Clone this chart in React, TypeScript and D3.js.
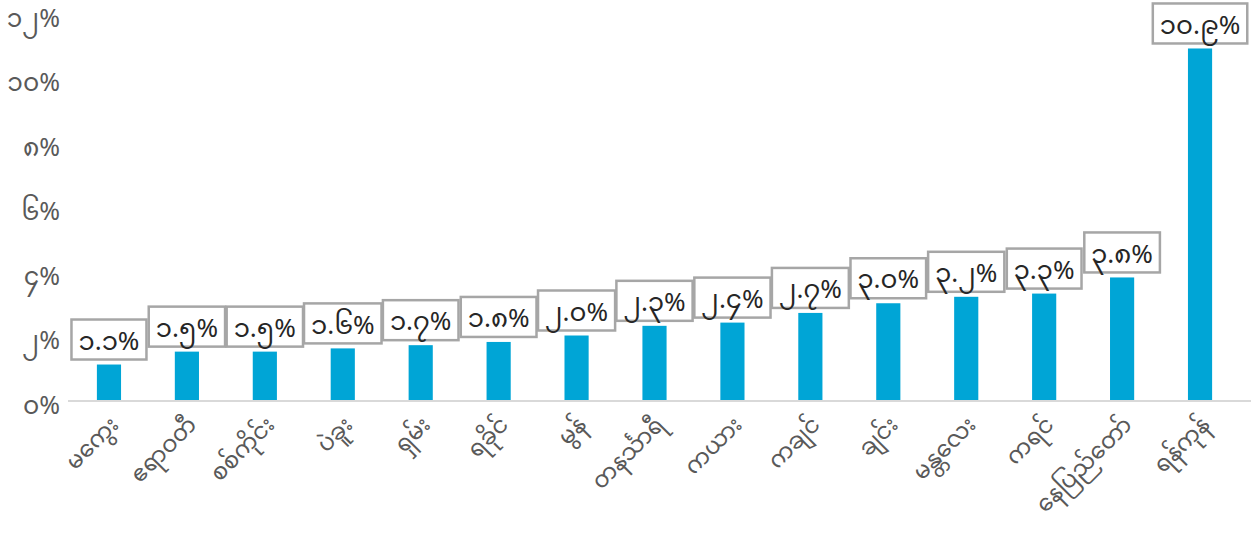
import React from 'react';
import * as d3 from 'd3';

const categories = ['မကွေး', 'ဧရာဝတီ', 'စစ်ကိုင်း', 'ပဲခူး', 'ရှမ်း', 'ရခိုင်', 'မွန်', 'တနင်္သာရီ', 'ကယား', 'ကချင်', 'ချင်း', 'မန္တလေး', 'ကရင်', 'နေပြည်တော်', 'ရန်ကုန်'];
const values = [1.1, 1.5, 1.5, 1.6, 1.7, 1.8, 2.0, 2.3, 2.4, 2.7, 3.0, 3.2, 3.3, 3.8, 10.9];
const yTicks = [0, 2, 4, 6, 8, 10, 12];

const mmDigits = ['၀', '၁', '၂', '၃', '၄', '၅', '၆', '၇', '၈', '၉'];
const toMM = (s: string) => s.replace(/[0-9]/g, d => mmDigits[+d]);

const W = 1251;
const H = 533;

const App: React.FC = () => {
  const svgRef = React.useRef<SVGSVGElement>(null);

  React.useEffect(() => {
    if (!svgRef.current) return;
    const svg = d3.select(svgRef.current);
    svg.selectAll('*').remove();

    const font = "'Noto Sans', 'Noto Sans Myanmar', Padauk, 'DejaVu Sans', sans-serif";

    const x = d3.scaleBand<string>()
      .domain(categories)
      .range([70, 1239])
      .paddingInner(0.69)
      .paddingOuter(0.345);

    const y = d3.scaleLinear()
      .domain([0, 12])
      .range([400, 13]);

    // y 축 라벨
    svg.append('g')
      .selectAll('text')
      .data(yTicks)
      .enter().append('text')
      .attr('x', 60)
      .attr('y', d => y(d) + 5)
      .attr('dy', '0.35em')
      .attr('text-anchor', 'end')
      .attr('font-family', font)
      .attr('font-size', 25)
      .attr('fill', '#595959')
      .text(d => toMM(`${d}%`));

    // 막대
    svg.append('g')
      .selectAll('rect')
      .data(values)
      .enter().append('rect')
      .attr('x', (d, i) => x(categories[i]) || 0)
      .attr('y', d => y(d))
      .attr('width', x.bandwidth())
      .attr('height', d => y(0) - y(d))
      .attr('fill', '#00a5d6');

    // x 축 선
    svg.append('line')
      .attr('x1', 68)
      .attr('x2', W)
      .attr('y1', y(0) + 1)
      .attr('y2', y(0) + 1)
      .attr('stroke', '#d9d9d9')
      .attr('stroke-width', 2);

    // 카테고리 라벨
    svg.append('g')
      .selectAll('text')
      .data(categories)
      .enter().append('text')
      .attr('transform', d => `translate(${(x(d) || 0) + x.bandwidth() / 2 + 11},${426}) rotate(-45)`)
      .attr('text-anchor', 'end')
      .attr('font-family', font)
      .attr('font-size', 23)
      .attr('fill', '#595959')
      .text(d => d);

    // 값 라벨 박스
    const labels = svg.append('g');
    values.forEach((v, i) => {
      const cx = (x(categories[i]) || 0) + x.bandwidth() / 2;
      const bottom = y(v) - 5;
      const g = labels.append('g');
      const rect = g.append('rect')
        .attr('fill', '#fff')
        .attr('stroke', '#a6a6a6')
        .attr('stroke-width', 2.5);
      const t = g.append('text')
        .attr('x', cx)
        .attr('y', bottom - 19)
        .attr('dy', '0.35em')
        .attr('text-anchor', 'middle')
        .attr('font-family', font)
        .attr('font-size', 26)
        .attr('fill', '#262626')
        .text(toMM(v.toFixed(1) + '%'));
      const tw = (t.node() as SVGTextElement).getComputedTextLength();
      const bw = Math.max(tw + 14, 74);
      rect.attr('x', cx - bw / 2)
        .attr('y', bottom - 40)
        .attr('width', bw)
        .attr('height', 40);
    });
  }, []);

  return (
    <svg
      ref={svgRef}
      width={W}
      height={H}
      style={{ position: 'absolute', left: 0, top: 0, background: '#fff' }}
    />
  );
};

export default App;
